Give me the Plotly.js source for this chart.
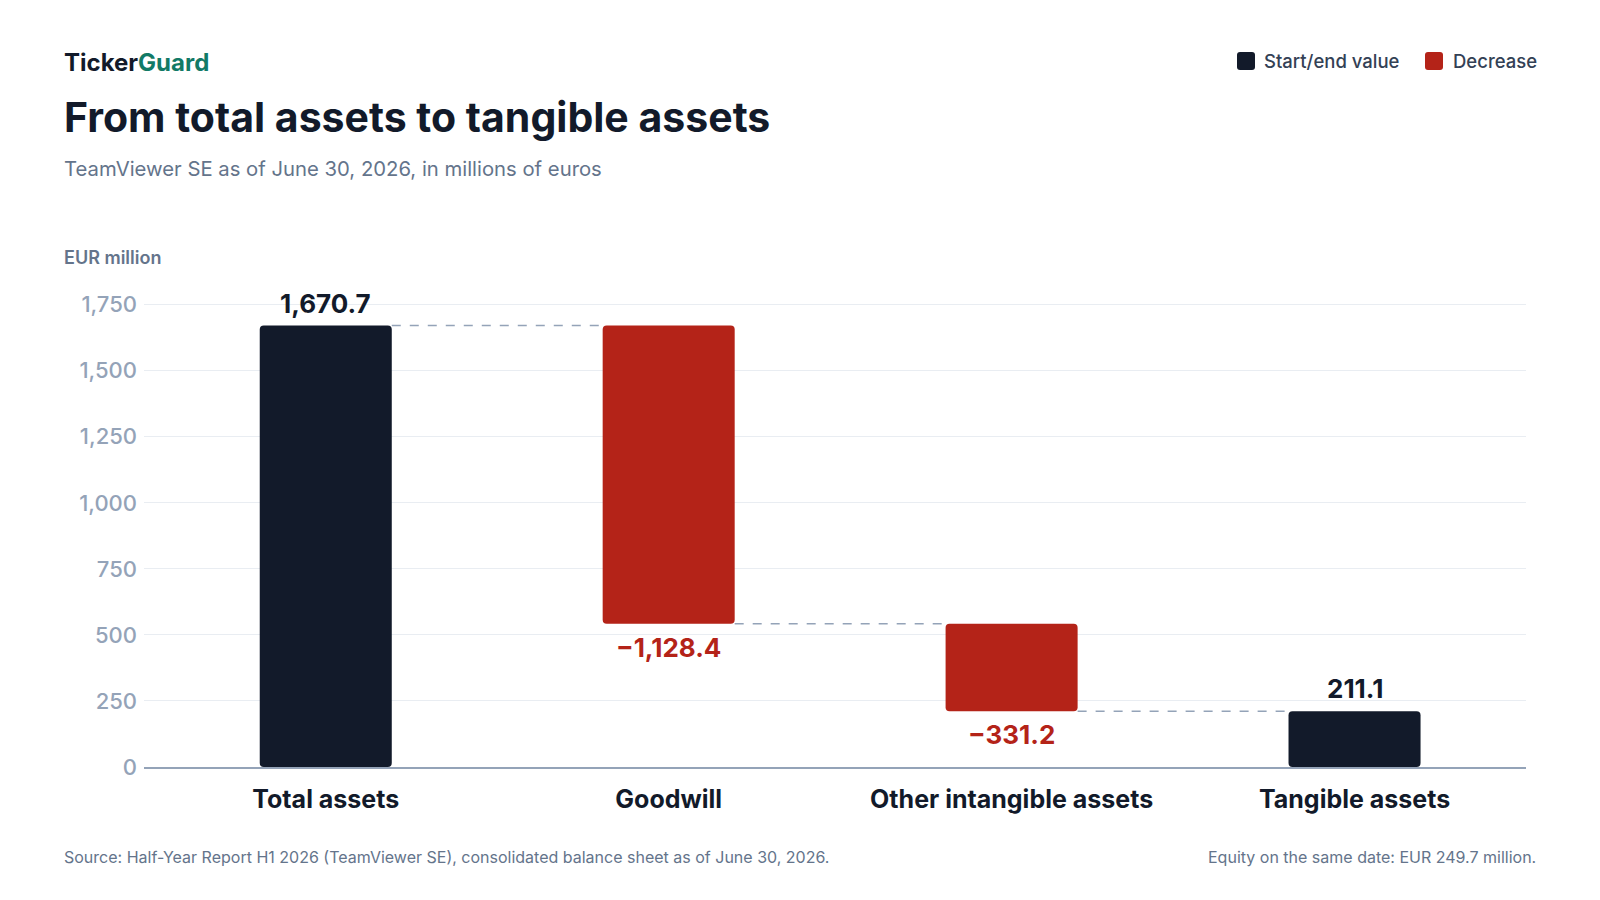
<!DOCTYPE html>
<html>
<head>
<meta charset="utf-8">
<script src="https://cdn.plot.ly/plotly-3.0.1.min.js"></script>
<style>
  html, body { margin: 0; padding: 0; background: #ffffff; }
  #chart { width: 1600px; height: 900px; }
</style>
</head>
<body>
<div id="chart"></div>
<script>
// values (EUR million)
var categories = ["Total assets", "Goodwill", "Other intangible assets", "Tangible assets"];
var values = [1670.7, -1128.4, -331.2, 211.1];
var kinds = ["total", "decrease", "decrease", "total"];
var yTicks = [0, 250, 500, 750, 1000, 1250, 1500, 1750];

var DARK = "#121a2a", RED = "#b42318", SLATE = "#64748b", FONT = "Inter, 'Noto Sans', sans-serif";
var BARW = 0.385;

// plot box in pixels, used to place the header/footer text
var L = 144, R = 74, T = 302, B = 133;
var W = 1600 - L - R, H = 900 - T - B;
function px(x) { return (x - L) / W; }
function py(y) { return (900 - B - y) / H; }

function fmt(v) {
        var s = Math.abs(v).toLocaleString("en-US", {minimumFractionDigits: 1, maximumFractionDigits: 1});
        return (v < 0 ? "\u2212" : "") + s;
}

// small rounded square for the legend, given in pixels
function swatch(x, y, size, r, color) {
        var x0 = px(x), x1 = px(x + size), y0 = py(y), y1 = py(y + size);
        var rx = r / W, ry = r / H;
        var p = "M " + (x0 + rx) + "," + y0 + " L " + (x1 - rx) + "," + y0 +
                " Q " + x1 + "," + y0 + " " + x1 + "," + (y0 - ry) +
                " L " + x1 + "," + (y1 + ry) + " Q " + x1 + "," + y1 + " " + (x1 - rx) + "," + y1 +
                " L " + (x0 + rx) + "," + y1 + " Q " + x0 + "," + y1 + " " + x0 + "," + (y1 + ry) +
                " L " + x0 + "," + (y0 - ry) + " Q " + x0 + "," + y0 + " " + (x0 + rx) + "," + y0 + " Z";
        return {type: "path", xref: "paper", yref: "paper", path: p, fillcolor: color, line: {width: 0}};
}

// work out bases and running totals
var bases = [], ends = [], running = 0;
for (var i = 0; i < values.length; i++) {
        if (kinds[i] == "total") { bases.push(0); running = values[i]; }
        else { bases.push(running); running = running + values[i]; }
        ends.push(running);
}

function pick(kind) {
        var t = {x: [], y: [], base: []};
        for (var i = 0; i < values.length; i++) {
                if (kinds[i] != kind) continue;
                t.x.push(categories[i]); t.y.push(values[i]); t.base.push(bases[i]);
        }
        return t;
}
var tot = pick("total"), dec = pick("decrease");

var data = [
        {type: "bar", name: "Start/end value", x: tot.x, y: tot.y, base: tot.base, width: BARW,
         marker: {color: DARK, cornerradius: 4, line: {width: 0}}, hoverinfo: "skip"},
        {type: "bar", name: "Decrease", x: dec.x, y: dec.y, base: dec.base, width: BARW,
         marker: {color: RED, cornerradius: 4, line: {width: 0}}, hoverinfo: "skip"}
];

// dashed connectors between bar edges at the running total
var shapes = [];
for (var i = 0; i < values.length - 1; i++) {
        shapes.push({type: "line", xref: "x", yref: "y", x0: i + BARW / 2, x1: i + 1 - BARW / 2,
                y0: ends[i], y1: ends[i], line: {color: "#94a3b8", width: 1.5, dash: "dash"}});
}

// value labels
var annotations = [];
for (var i = 0; i < values.length; i++) {
        var neg = values[i] < 0;
        annotations.push({xref: "x", yref: "y", x: categories[i], y: neg ? ends[i] : bases[i] + values[i],
                text: "<b>" + fmt(values[i]) + "</b>", showarrow: false,
                yanchor: neg ? "top" : "bottom", yshift: neg ? -6 : 5,
                font: {family: FONT, size: 26, color: neg ? RED : DARK}});
}

// header, axis caption, footer
annotations.push(
        {xref: "paper", yref: "paper", x: px(62), y: py(62), xanchor: "left", yanchor: "middle", showarrow: false,
         text: "<b>Ticker<span style='color:#127a66'>Guard</span></b>", font: {family: FONT, size: 24, color: DARK, weight: 800}},
        {xref: "paper", yref: "paper", x: px(62), y: py(168), xanchor: "left", yanchor: "middle", showarrow: false,
         text: "TeamViewer SE as of June 30, 2026, in millions of euros", font: {family: FONT, size: 20.3, color: SLATE}},
        {xref: "paper", yref: "paper", x: px(62), y: py(257), xanchor: "left", yanchor: "middle", showarrow: false,
         text: "EUR million", font: {family: FONT, size: 18, color: SLATE, weight: 600}},
        {xref: "paper", yref: "paper", x: px(62), y: py(857), xanchor: "left", yanchor: "middle", showarrow: false,
         text: "Source: Half-Year Report H1 2026 (TeamViewer SE), consolidated balance sheet as of June 30, 2026.",
         font: {family: FONT, size: 16, color: SLATE}},
        {xref: "paper", yref: "paper", x: px(1538), y: py(857), xanchor: "right", yanchor: "middle", showarrow: false,
         text: "Equity on the same date: EUR 249.7 million.", font: {family: FONT, size: 16, color: SLATE}},
        {xref: "paper", yref: "paper", x: px(1262), y: py(61), xanchor: "left", yanchor: "middle", showarrow: false,
         text: "Start/end value", font: {family: FONT, size: 18.5, color: "#334155", weight: 500}},
        {xref: "paper", yref: "paper", x: px(1451), y: py(61), xanchor: "left", yanchor: "middle", showarrow: false,
         text: "Decrease", font: {family: FONT, size: 18.5, color: "#334155", weight: 500}}
);

// legend swatches
shapes.push(swatch(1237, 52, 18, 3, DARK), swatch(1425, 52, 18, 3, RED));

var layout = {
        width: 1600, height: 900,
        margin: {l: L, r: R, t: T, b: B},
        paper_bgcolor: "#ffffff", plot_bgcolor: "#ffffff",
        title: {text: "<b>From total assets to tangible assets</b>", x: 64 / 1600, xanchor: "left",
                y: 1 - 118 / 900, yanchor: "middle", font: {family: FONT, size: 41, color: DARK}},
        showlegend: false, barmode: "overlay",
        xaxis: {type: "category", categoryorder: "array", categoryarray: categories, range: [-0.53, 3.5],
                showline: true, linecolor: "#94a3b8", linewidth: 2, ticks: "", showgrid: false, fixedrange: true,
                ticklabelstandoff: 9, tickfont: {family: FONT, size: 25, color: DARK, weight: 700}},
        yaxis: {range: [0, 1760], tickvals: yTicks, tickformat: ",d", showgrid: true, gridcolor: "#e9edf2",
                gridwidth: 1, zeroline: false, ticks: "", ticklabelstandoff: 6, fixedrange: true,
                tickfont: {family: FONT, size: 22, color: "#94a3b8", weight: 500}},
        shapes: shapes, annotations: annotations
};

try { Plotly.newPlot("chart", data, layout, {displayModeBar: false, staticPlot: true}); }
catch (err) { document.body.innerHTML = err; }
</script>
</body>
</html>
